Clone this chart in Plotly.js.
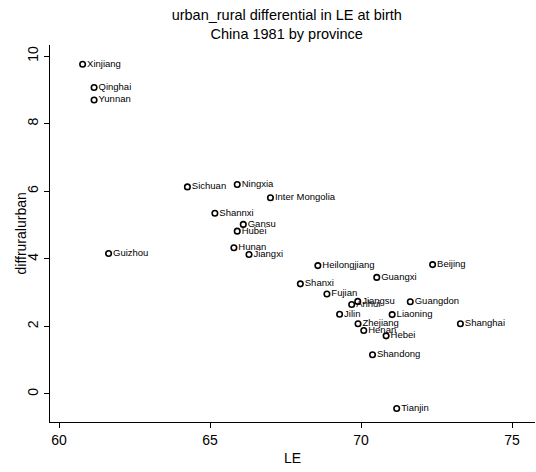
<!DOCTYPE html>
<html>
<head>
<meta charset="utf-8">
<script src="https://cdn.plot.ly/plotly-3.0.1.min.js"></script>
<style>html,body{margin:0;padding:0;background:#fff;}#chart{width:536px;height:472px;}</style>
</head>
<body>
<div id="chart"></div>
<script>
const provinces = ["Xinjiang","Qinghai","Yunnan","Guizhou","Sichuan","Ningxia","Inter Mongolia","Shannxi","Gansu","Hubei","Hunan","Jiangxi","Heilongjiang","Beijing","Guangxi","Shanxi","Fujian","Jiangsu","Anhui","Guangdon","Jilin","Liaoning","Shanghai","Zhejiang","Henan","Hebei","Shandong","Tianjin"];
const le = [60.78,61.16,61.16,61.64,64.25,65.90,67.00,65.16,66.10,65.90,65.79,66.29,68.57,72.37,70.52,67.99,68.87,69.89,69.69,71.63,69.29,71.03,73.29,69.90,70.09,70.83,70.38,71.18];
const diffruralurban = [9.76,9.07,8.70,4.16,6.13,6.20,5.81,5.35,5.02,4.82,4.33,4.13,3.80,3.83,3.45,3.26,2.96,2.74,2.65,2.73,2.36,2.35,2.08,2.08,1.88,1.72,1.16,-0.43];
const xTicks = [60,65,70,75];
const yTicks = [0,2,4,6,8,10];

const font = "Liberation Sans, Arial, sans-serif";
const trace = {
  x: le, y: diffruralurban, text: provinces,
  type: "scatter", mode: "markers+text",
  textposition: "middle right",
  textfont: {family: font, size: 9.5, color: "#000000"},
  marker: {symbol: "circle-open", size: 5.5, color: "#000", line: {width: 1.6, color: "#000"}},
  cliponaxis: false,
  hoverinfo: "skip"
};
const layout = {
  width: 536, height: 472,
  margin: {l: 50, r: 1, t: 45, b: 50},
  paper_bgcolor: "#fff", plot_bgcolor: "#fff",
  showlegend: false,
  font: {family: font, color: "#000"},
  title: {text: "urban_rural differential in LE at birth<br>China 1981 by province", font: {family: font, size: 14.5, color: "#000"}, x: 0.535, xanchor: "center", yref: "container", y: 0.957, yanchor: "middle"},
  xaxis: {
    range: [59.70, 75.76], tickvals: xTicks, ticktext: xTicks.map(String),
    showgrid: false, zeroline: false, showline: true, linecolor: "#000", linewidth: 1,
    ticks: "outside", ticklen: 5, tickcolor: "#000",
    tickfont: {family: font, size: 14, color: "#000"},
    title: {text: "LE", font: {family: font, size: 14, color: "#000"}, standoff: 6}
  },
  yaxis: {
    range: [-0.83, 10.33], tickvals: yTicks, ticktext: yTicks.map(String),
    showgrid: false, zeroline: false, showline: true, linecolor: "#000", linewidth: 1,
    ticks: "outside", ticklen: 5, tickcolor: "#000", tickangle: -90,
    tickfont: {family: font, size: 14, color: "#000"}
  },
  annotations: [{
    text: "diffruralurban", xref: "paper", yref: "paper", x: 0, y: 0.5,
    xanchor: "center", yanchor: "middle", xshift: -30, textangle: -90, showarrow: false,
    font: {family: font, size: 14, color: "#000"}
  }]
};
Plotly.newPlot("chart", [trace], layout, {displayModeBar: false, staticPlot: true});
</script>
</body>
</html>
